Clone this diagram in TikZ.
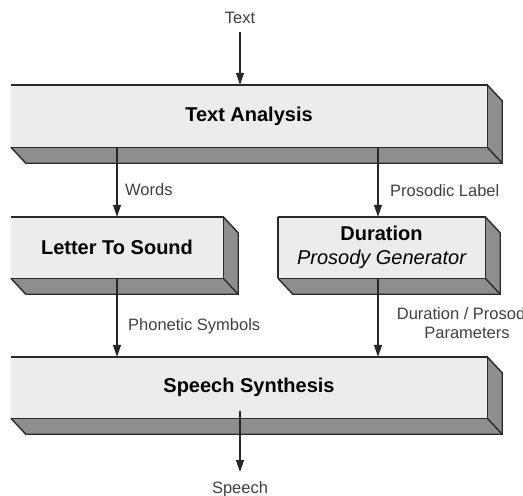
\documentclass[tikz,border=0pt]{standalone}
\usepackage{fontspec}
\setmainfont{Liberation Sans}
\usetikzlibrary{arrows.meta}
\definecolor{frontc}{HTML}{ECECEC}
\definecolor{sidec}{HTML}{8E8E8E}
\definecolor{edgec}{HTML}{2A2A2A}
\tikzset{
  slabface/.style={rectangle, fill=frontc, inner sep=0pt, align=center,
    font=\fontsize{20}{23}\selectfont\bfseries},
  edge/.style={draw=edgec, line width=1.4pt, line join=miter},
  arr/.style={draw=black!85, line width=1.2pt, -{Triangle[length=12pt,width=8pt]}},
  lab/.style={font=\fontsize{16.5}{19}\selectfont, text=black!75, inner sep=0pt, anchor=base west},
  clab/.style={lab, anchor=base},
}
\newcommand\slab[1]{%
  \fill[sidec] (#1.south west) -- (#1.south east) -- ([shift={(15,16)}]#1.south east) -- ([shift={(15,16)}]#1.south west) -- cycle;
  \fill[sidec] (#1.north east) -- ([shift={(15,16)}]#1.north east) -- ([shift={(15,16)}]#1.south east) -- (#1.south east) -- cycle;
  \draw[edge] (#1.south west) -- ([shift={(15,16)}]#1.south west) -- ([shift={(15,16)}]#1.south east) -- ([shift={(15,16)}]#1.north east) -- (#1.north east);
  \draw[edge] (#1.south east) -- ([shift={(15,16)}]#1.south east);
  \draw[edge] (#1.north west) -- (#1.north east) -- (#1.south east) -- (#1.south west);
}
\begin{document}
\begin{tikzpicture}[x=1pt,y=-1pt]
\useasboundingbox[fill=white] (0,0) rectangle (523,496);

% boxes (front faces)
\node[slabface, minimum width=476pt, minimum height=62pt] (ta) at (249,116) {Text Analysis};
\node[slabface, minimum width=212pt, minimum height=61pt] (lts) at (117,247.5) {Letter To Sound};
\node[slabface, minimum width=207pt, minimum height=61pt] (dur) at (381.5,247.5) {Duration\\[1pt]{\mdseries\itshape Prosody Generator}};
\node[slabface, minimum width=476pt, minimum height=61pt] (ss) at (249,387.5) {Speech Synthesis};

\slab{ta}
\slab{lts}
\slab{dur}
\draw[edge] (dur.north west) -- (dur.south west);
\slab{ss}

% column coordinates
\coordinate (cx) at (240,0);
\coordinate (px) at (378,0);

% labels
\node[clab] (tlab) at (240,23) {Text};
\node[lab] (wlab) at (125,195) {Words};
\node[lab] (plab) at (390,196) {Prosodic Label};
\node[lab] (phlab) at (128,330) {Phonetic Symbols};
\begin{scope}
\clip (0,0) rectangle (523,496);
\node[clab] (dlab1) at (467,319) {Duration / Prosodic};
\node[clab] (dlab2) at (467,338) {Parameters};
\end{scope}
\node[clab] (slab) at (240,493) {Speech};

% connectors
\coordinate (tin) at (240,32);
\coordinate (sout) at (240,472);
\draw[arr] (tin) -- (ta.north -| cx);
\draw[arr] (ta.south -| lts.north) -- (lts.north);
\draw[arr] (ta.south -| px) -- (dur.north -| px);
\draw[arr] (lts.south) -- (ss.north -| lts.south);
\draw[arr] (dur.south -| px) -- (ss.north -| px);
\draw[arr] ([yshift=7pt]ss.south -| cx) -- (sout);
\end{tikzpicture}
\end{document}
